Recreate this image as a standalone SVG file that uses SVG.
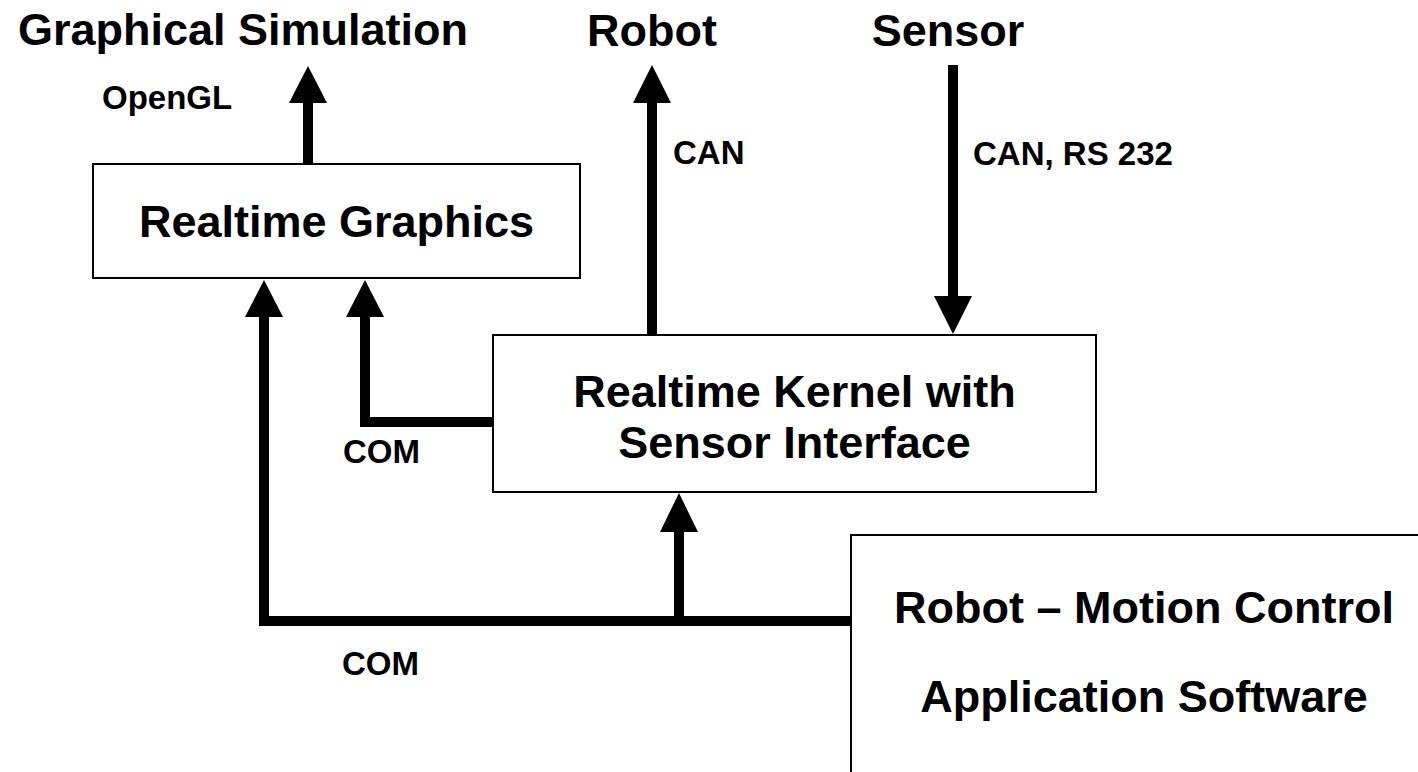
<svg xmlns="http://www.w3.org/2000/svg" width="1418" height="772" viewBox="0 0 1418 772">
<style>
.box{fill:#fff;stroke:#000;stroke-width:2}
.big{font-family:"Liberation Sans",Arial,sans-serif;font-weight:bold;font-size:45px;fill:#000}
.sm{font-family:"Liberation Sans",Arial,sans-serif;font-weight:bold;font-size:33px;fill:#000}
.ln{fill:none;stroke:#000;stroke-width:10;stroke-linejoin:miter;stroke-linecap:butt}
.hd{fill:#000}
</style>
<rect width="1418" height="772" fill="#fff"/>
<g id="connectors">
<line class="ln" x1="308" y1="164" x2="308" y2="100"/>
<polygon class="hd" points="308,66 327,103 289,103"/>
<line class="ln" x1="652" y1="335" x2="652" y2="100"/>
<polygon class="hd" points="652,65 671,103 633,103"/>
<line class="ln" x1="953" y1="65" x2="953" y2="299"/>
<polygon class="hd" points="953,334 972,296 934,296"/>
<polyline class="ln" points="493,422 365,422 365,314"/>
<polygon class="hd" points="365,280 384,317 346,317"/>
<polyline class="ln" points="851,621 264,621 264,314"/>
<polygon class="hd" points="264,280 283,317 245,317"/>
<line class="ln" x1="679" y1="621" x2="679" y2="528"/>
<polygon class="hd" points="679,493 698,532 660,532"/>
</g>
<g id="labels">
<text class="big" x="243" y="45" text-anchor="middle">Graphical Simulation</text>
<text class="big" x="652" y="46" text-anchor="middle">Robot</text>
<text class="big" x="948" y="46" text-anchor="middle">Sensor</text>
<text class="sm" x="102" y="109">OpenGL</text>
<text class="sm" x="673" y="164">CAN</text>
<text class="sm" x="973" y="165">CAN, RS 232</text>
<text class="sm" x="343" y="463">COM</text>
<text class="sm" x="342" y="675">COM</text>
</g>
<g id="realtime-graphics">
<rect class="box" x="93" y="164" width="487" height="114"/>
<text class="big" x="336.5" y="237" text-anchor="middle">Realtime Graphics</text>
</g>
<g id="realtime-kernel">
<rect class="box" x="493" y="335" width="603" height="157"/>
<text class="big" x="794.5" y="407" text-anchor="middle">Realtime Kernel with</text>
<text class="big" x="794.5" y="458" text-anchor="middle">Sensor Interface</text>
</g>
<g id="application">
<rect class="box" x="851" y="535" width="620" height="300"/>
<text class="big" x="1144" y="623" text-anchor="middle">Robot – Motion Control</text>
<text class="big" x="1144" y="712" text-anchor="middle">Application Software</text>
</g>
</svg>
